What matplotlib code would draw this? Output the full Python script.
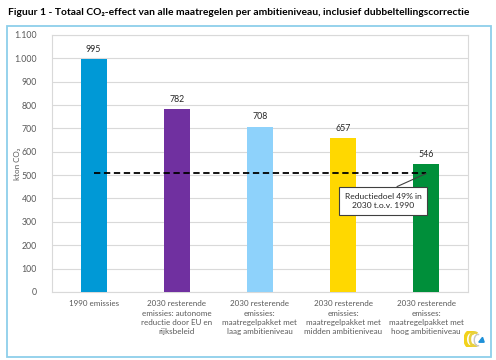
import matplotlib.pyplot as plt
from matplotlib.patches import Rectangle, Arc, Polygon

plt.rcParams["font.family"] = ["Lato", "DejaVu Sans"]

categories = [
    "1990 emissies",
    "2030 resterende\nemissies: autonome\nreductie door EU en\nrijksbeleid",
    "2030 resterende\nemissies:\nmaatregelpakket met\nlaag ambitieniveau",
    "2030 resterende\nemissies:\nmaatregelpakket met\nmidden ambitieniveau",
    "2030 resterende\nemisses:\nmaatregelpakket met\nhoog ambitieniveau",
]
values = [995, 782, 708, 657, 546]
colors = ["#0099D6", "#7030A0", "#8ED2FB", "#FFD800", "#008F3A"]
target = 507  # reductiedoel 49% t.o.v. 1990
yticks = list(range(0, 1101, 100))
ytick_labels = ["{:,}".format(v).replace(",", ".") for v in yticks]

fig = plt.figure(figsize=(4.96, 3.6), dpi=100)
fig.patch.set_facecolor("white")

# outer frame
fig.patches.append(Rectangle((0.015, 0.009), 0.975, 0.92, transform=fig.transFigure,
                             fill=False, edgecolor="#8ECFEA", linewidth=1.3))
fig.text(0.016, 0.965, "Figuur 1 - Totaal CO\u2082-effect van alle maatregelen per ambitieniveau, inclusief dubbeltellingscorrectie",
         fontsize=7.4, fontweight="bold", va="center", ha="left")

ax = fig.add_axes([0.105, 0.189, 0.838, 0.714])
x = range(len(categories))
ax.bar(x, values, width=0.31, color=colors, zorder=3)
for i, v in enumerate(values):
    ax.text(i, v + 22, str(v), ha="center", va="bottom", fontsize=6.3, color="#262626")

ax.plot([0, len(categories) - 1], [target, target], color="black", linestyle=(0, (3.5, 2)),
        linewidth=1.3, zorder=4)

ax.annotate("Reductiedoel 49% in\n2030 t.o.v. 1990", xy=(4, target), xytext=(3.48, 390),
            ha="center", va="center", fontsize=6.1, color="#262626", linespacing=1.3,
            bbox=dict(boxstyle="square,pad=0.7", fc="white", ec="#404040", lw=0.8),
            arrowprops=dict(arrowstyle="-", color="#404040", lw=0.8,
                            shrinkA=0, shrinkB=0, relpos=(0.5, 1.0)), zorder=5)

ax.set_xlim(-0.5, len(categories) - 0.5)
ax.set_ylim(0, 1100)
ax.set_yticks(yticks)
ax.set_yticklabels(ytick_labels, fontsize=6.3, color="#595959")
ax.set_xticks(list(x))
ax.set_xticklabels(categories, fontsize=5.8, color="#595959", linespacing=1.4, va="top")
ax.tick_params(axis="y", length=0, pad=11)
ax.tick_params(axis="x", length=0, pad=6)
ax.grid(axis="y", color="#D9D9D9", linewidth=0.8, zorder=0)
for s in ax.spines.values():
    s.set_color("#D9D9D9")
    s.set_linewidth(0.8)
ax.set_ylabel("kton CO\u2082", fontsize=5.8, color="#595959")
ax.yaxis.set_label_coords(-0.075, 0.5)

# small logo bottom right
lg = fig.add_axes([0.935, 0.035, 0.042, 0.045])
lg.set_xlim(0, 1)
lg.set_ylim(0, 1)
lg.axis("off")
lg.add_patch(Arc((0.32, 0.5), 0.5, 0.95, theta1=60, theta2=300, color="#F2D21B", lw=2.6))
lg.add_patch(Arc((0.52, 0.5), 0.45, 0.85, theta1=70, theta2=290, color="#E8D040", lw=1.8))
lg.add_patch(Arc((0.68, 0.45), 0.35, 0.7, theta1=80, theta2=280, color="#C8C8C8", lw=1.0))
lg.add_patch(Polygon([[0.72, 0.32], [0.98, 0.32], [0.9, 0.62]], closed=True, color="#1E90D8"))

fig.savefig("out.png", dpi=100)
